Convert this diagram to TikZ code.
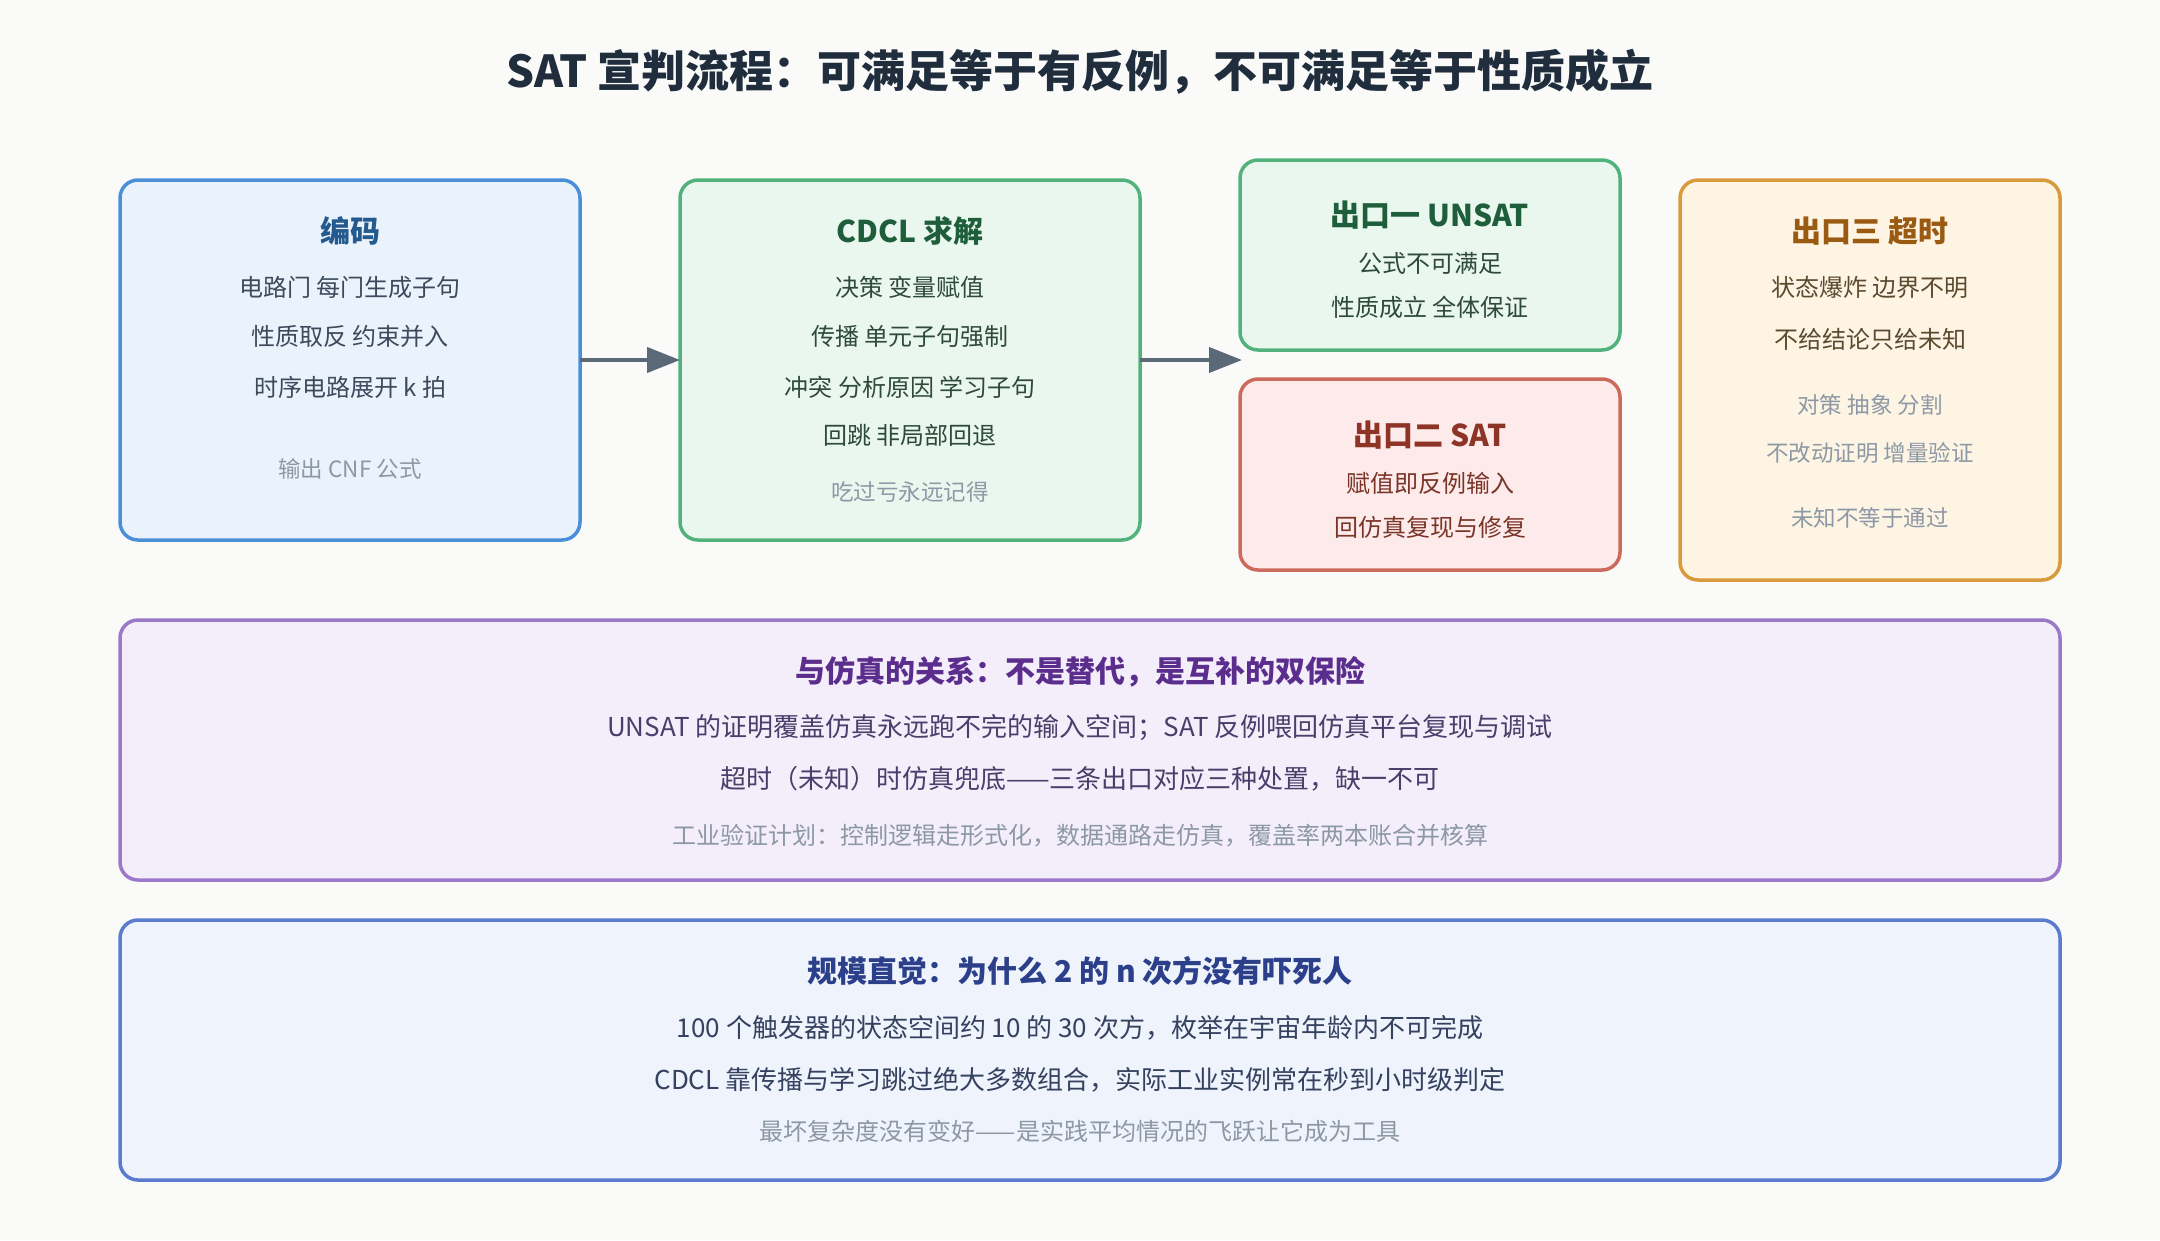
\documentclass[tikz,border=0pt]{standalone}
\usepackage{fontspec}
\setmainfont{Noto Sans CJK SC}
\usetikzlibrary{arrows.meta}
\definecolor{bgc}{HTML}{FAFAF9}
\definecolor{maintitle}{HTML}{1F2D3D}
\definecolor{notegray}{HTML}{8D98A5}
\definecolor{arrc}{HTML}{5A6878}
\definecolor{bAfill}{HTML}{EAF2FC}\definecolor{bAdraw}{HTML}{4A90D9}\definecolor{bAtitle}{HTML}{245A8E}\definecolor{bAbody}{HTML}{3C4A5C}
\definecolor{bBfill}{HTML}{EAF7EF}\definecolor{bBdraw}{HTML}{52B27C}\definecolor{bBtitle}{HTML}{1E5E3B}\definecolor{bBbody}{HTML}{2E4A3A}
\definecolor{bDfill}{HTML}{FCEBEA}\definecolor{bDdraw}{HTML}{CC6B5C}\definecolor{bDtitle}{HTML}{8E3427}\definecolor{bDbody}{HTML}{7A3428}
\definecolor{bEfill}{HTML}{FDF4E4}\definecolor{bEdraw}{HTML}{D99A3C}\definecolor{bEtitle}{HTML}{9A5A12}\definecolor{bEbody}{HTML}{5C4A2E}
\definecolor{bFfill}{HTML}{F4EEFB}\definecolor{bFdraw}{HTML}{9B78C8}\definecolor{bFtitle}{HTML}{5B2D8C}\definecolor{bFbody}{HTML}{4A3E6A}
\definecolor{bGfill}{HTML}{EEF3FC}\definecolor{bGdraw}{HTML}{5B7BCF}\definecolor{bGtitle}{HTML}{2B3F8A}\definecolor{bGbody}{HTML}{34415F}
\tikzset{
  panel/.style={rectangle, rounded corners=18pt, line width=3.5pt, inner sep=0pt, outer sep=0pt},
  txt/.style={inner sep=0pt, outer sep=0pt, anchor=center},
  ttl/.style={txt, text height=27.6pt, text depth=3pt, font=\fontsize{30}{34}\selectfont\bfseries},
  bdy/.style={txt, text height=22.1pt, text depth=2.4pt, font=\fontsize{24}{28}\selectfont},
  nte/.style={txt, text height=20.7pt, text depth=2.25pt, font=\fontsize{22.5}{26}\selectfont, text=notegray},
  bttl/.style={txt, text height=27.6pt, text depth=3pt, font=\fontsize{30}{34}\selectfont\bfseries},
  bbdy/.style={txt, text height=23.9pt, text depth=2.6pt, font=\fontsize{26}{30}\selectfont},
  bnte/.style={txt, text height=22.1pt, text depth=2.4pt, font=\fontsize{24}{28}\selectfont, text=notegray},
  mttl/.style={txt, text height=40.5pt, text depth=4.4pt, font=\fontsize{44}{50}\selectfont\bfseries, text=maintitle},
  arr/.style={draw=arrc, line width=4pt, -{Triangle[length=33pt,width=25pt]}}
}
\begin{document}
\begin{tikzpicture}[x=1pt,y=-1pt]
\fill[bgc] (0,0) rectangle (2160,1240);
\useasboundingbox (0,0) rectangle (2160,1240);

\node[mttl] (title) at (1080,69) {SAT 宣判流程：可满足等于有反例，不可满足等于性质成立};

% box 1
\node[panel, fill=bAfill, draw=bAdraw, minimum width=460pt, minimum height=360pt] (enc) at (350,360) {};
\node[ttl, text=bAtitle] (encT) at (350,230) {编码};
\node[bdy, text=bAbody] (enc1) at (350,287) {电路门 每门生成子句};
\node[bdy, text=bAbody] (enc2) at (350,336) {性质取反 约束并入};
\node[bdy, text=bAbody] (enc3) at (350,387) {时序电路展开 k 拍};
\node[nte] (enc4) at (350,468) {输出 CNF 公式};

% box 2
\node[panel, fill=bBfill, draw=bBdraw, minimum width=460pt, minimum height=360pt] (cdcl) at (910,360) {};
\node[ttl, text=bBtitle] (cdclT) at (910,230) {CDCL 求解};
\node[bdy, text=bBbody] (cdcl1) at (910,287) {决策 变量赋值};
\node[bdy, text=bBbody] (cdcl2) at (910,336) {传播 单元子句强制};
\node[bdy, text=bBbody] (cdcl3) at (910,387) {冲突 分析原因 学习子句};
\node[bdy, text=bBbody] (cdcl4) at (910,435) {回跳 非局部回退};
\node[nte] (cdcl5) at (910,491) {吃过亏永远记得};

% box 3 UNSAT
\node[panel, fill=bBfill, draw=bBdraw, minimum width=380pt, minimum height=190pt] (unsat) at (1430,255) {};
\node[ttl, text=bBtitle] (unsatT) at (1430,214) {出口一 UNSAT};
\node[bdy, text=bBbody] (unsat1) at (1430,263) {公式不可满足};
\node[bdy, text=bBbody] (unsat2) at (1430,307) {性质成立 全体保证};

% box 4 SAT
\node[panel, fill=bDfill, draw=bDdraw, minimum width=380pt, minimum height=191pt] (sat) at (1430,474.5) {};
\node[ttl, text=bDtitle] (satT) at (1430,434) {出口二 SAT};
\node[bdy, text=bDbody] (sat1) at (1430,483) {赋值即反例输入};
\node[bdy, text=bDbody] (sat2) at (1430,527) {回仿真复现与修复};

% box 5 timeout
\node[panel, fill=bEfill, draw=bEdraw, minimum width=380pt, minimum height=400pt] (tout) at (1870,380) {};
\node[ttl, text=bEtitle] (toutT) at (1870,230) {出口三 超时};
\node[bdy, text=bEbody] (tout1) at (1870,287) {状态爆炸 边界不明};
\node[bdy, text=bEbody] (tout2) at (1870,339) {不给结论只给未知};
\node[nte] (tout3) at (1870,404) {对策 抽象 分割};
\node[nte] (tout4) at (1870,452) {不改动证明 增量验证};
\node[nte] (tout5) at (1870,517) {未知不等于通过};

% arrows
\coordinate (exitpt) at (1242,360);
\draw[arr] (enc.east) -- (cdcl.west);
\draw[arr] (cdcl.east) -- (exitpt);

% box 6
\node[panel, fill=bFfill, draw=bFdraw, minimum width=1940pt, minimum height=260pt] (sim) at (1090,750) {};
\node[bttl, text=bFtitle] (simT) at (1080,670) {与仿真的关系：不是替代，是互补的双保险};
\node[bbdy, text=bFbody] (sim1) at (1080,726) {UNSAT 的证明覆盖仿真永远跑不完的输入空间；SAT 反例喂回仿真平台复现与调试};
\node[bbdy, text=bFbody] (sim2) at (1080,778) {超时（未知）时仿真兜底——三条出口对应三种处置，缺一不可};
\node[bnte] (sim3) at (1080,835) {工业验证计划：控制逻辑走形式化，数据通路走仿真，覆盖率两本账合并核算};

% box 7
\node[panel, fill=bGfill, draw=bGdraw, minimum width=1940pt, minimum height=260pt] (scale) at (1090,1050) {};
\node[bttl, text=bGtitle] (scaleT) at (1080,970) {规模直觉：为什么 2 的 n 次方没有吓死人};
\node[bbdy, text=bGbody] (scale1) at (1080,1027) {100 个触发器的状态空间约 10 的 30 次方，枚举在宇宙年龄内不可完成};
\node[bbdy, text=bGbody] (scale2) at (1080,1079) {CDCL 靠传播与学习跳过绝大多数组合，实际工业实例常在秒到小时级判定};
\node[bnte] (scale3) at (1080,1131) {最坏复杂度没有变好——是实践平均情况的飞跃让它成为工具};
\end{tikzpicture}
\end{document}
